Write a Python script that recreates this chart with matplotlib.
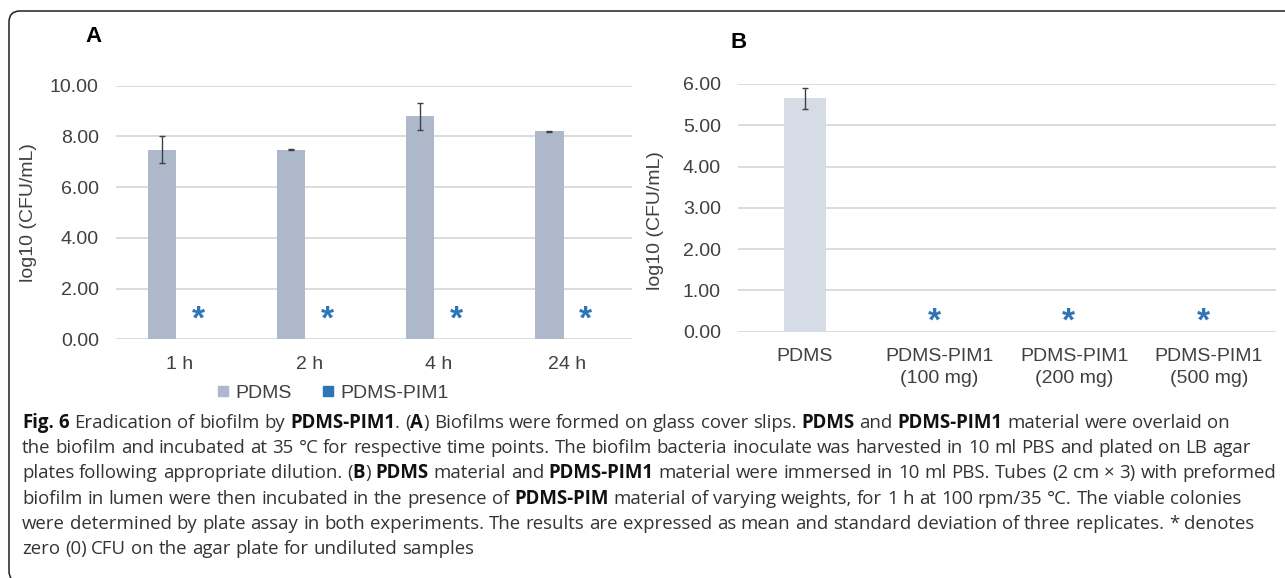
import matplotlib
matplotlib.use('Agg')
import matplotlib.pyplot as plt
from matplotlib.patches import FancyBboxPatch
from matplotlib.lines import Line2D
from matplotlib.transforms import IdentityTransform
import numpy as np

plt.rcParams['font.family'] = ['Liberation Sans', 'DejaVu Sans']

# panel A data
time_labels = ['1 h', '2 h', '4 h', '24 h']
pdms_a = [7.48, 7.47, 8.80, 8.20]
pdms_a_err = [0.54, 0.02, 0.53, 0.02]
pim1_a = [0, 0, 0, 0]

# panel B data
b_labels = ['PDMS', 'PDMS-PIM1\n(100 mg)', 'PDMS-PIM1\n(200 mg)', 'PDMS-PIM1\n(500 mg)']
b_values = [5.65, 0, 0, 0]
b_err = [0.26, 0, 0, 0]

# caption: (text, bold) runs, one list per line
caption = [
    [('Fig. 6', True), (' Eradication of biofilm by ', False), ('PDMS-PIM1', True), ('. (', False),
     ('A', True), (') Biofilms were formed on glass cover slips. ', False), ('PDMS', True),
     (' and ', False), ('PDMS-PIM1', True), (' material were overlaid on', False)],
    [('the biofilm and incubated at 35 °C for respective time points. The biofilm bacteria '
      'inoculate was harvested in 10 ml PBS and plated on LB agar', False)],
    [('plates following appropriate dilution. (', False), ('B', True), (') ', False), ('PDMS', True),
     (' material and ', False), ('PDMS-PIM1', True),
     (' material were immersed in 10 ml PBS. Tubes (2 cm × 3) with preformed', False)],
    [('biofilm in lumen were then incubated in the presence of ', False), ('PDMS-PIM', True),
     (' material of varying weights, for 1 h at 100 rpm/35 °C. The viable colonies', False)],
    [('were determined by plate assay in both experiments. The results are expressed as mean '
      'and standard deviation of three replicates. * denotes', False)],
    [('zero (0) CFU on the agar plate for undiluted samples', False)],
]

W, H = 1285, 578
fig = plt.figure(figsize=(W / 100, H / 100), dpi=100)

grey_txt = '#404040'
grid_c = '#D9D9D9'
star_c = '#2E75B6'
err_kw = dict(ecolor='#404040', elinewidth=1, capthick=1)


def style_axes(ax):
    for s in ax.spines.values():
        s.set_visible(False)
    ax.yaxis.grid(True, color=grid_c, lw=1.3)
    ax.set_axisbelow(True)
    ax.tick_params(length=0, labelsize=14, labelcolor=grey_txt, pad=12)
    ax.yaxis.set_major_formatter(plt.FormatStrFormatter('%.2f'))


def put_star(ax, x, y):
    ax.annotate('*', xy=(x, y), xytext=(0, -0.45 * 24), textcoords='offset points',
                ha='center', va='baseline', fontsize=24, fontweight='bold', color=star_c)


# ---- panel A
axA = fig.add_axes([115.5 / W, 1 - 339.3 / H, (632 - 115.5) / W, (339.3 - 85.7) / H])
style_axes(axA)
x = np.arange(len(time_labels))
axA.bar(x - 0.14, pdms_a, 0.22, color='#ADB9CA', label='PDMS')
axA.errorbar(x - 0.14, pdms_a, yerr=pdms_a_err, fmt='none', capsize=2.2, **err_kw)
axA.bar(x + 0.14, pim1_a, 0.22, color=star_c, label='PDMS-PIM1')
for xi, v in zip(x, pim1_a):
    if v == 0:
        put_star(axA, xi + 0.14, 1.02)
axA.set_xlim(-0.5, 3.5)
axA.set_ylim(0, 10)
axA.set_yticks(range(0, 11, 2))
axA.set_xticks(x)
axA.set_xticklabels(time_labels)
axA.set_ylabel('log10 (CFU/mL)', fontsize=14, color=grey_txt)
axA.yaxis.set_label_coords(-0.152, 0.5)

handles = [Line2D([], [], marker='s', ls='', color='#ADB9CA', markersize=7),
           Line2D([], [], marker='s', ls='', color=star_c, markersize=7)]
leg = fig.legend(handles, ['PDMS', 'PDMS-PIM1'], loc='center', ncol=2, frameon=False,
                 bbox_to_anchor=(333 / W, 1 - 393 / H), fontsize=14, handlelength=0.6,
                 handletextpad=0.3, columnspacing=1.6)
for t in leg.get_texts():
    t.set_color(grey_txt)

# ---- panel B
axB = fig.add_axes([737.5 / W, 1 - 331.7 / H, (1276 - 737.5) / W, (331.7 - 84) / H])
style_axes(axB)
xb = np.arange(len(b_labels))
axB.bar(xb, b_values, 0.31, color='#D6DCE5')
has_err = np.array(b_err) > 0
axB.errorbar(xb[has_err], np.array(b_values)[has_err], yerr=np.array(b_err)[has_err],
             fmt='none', capsize=2.5, **err_kw)
for xi, v in zip(xb, b_values):
    if v == 0:
        put_star(axB, xi - 0.04, 0.40)
axB.set_xlim(-0.5, 3.5)
axB.set_ylim(0, 6)
axB.set_yticks(range(0, 7))
axB.set_xticks(xb)
axB.set_xticklabels(b_labels, linespacing=1.35)
axB.set_ylabel('log10 (CFU/mL)', fontsize=14, color=grey_txt)
axB.yaxis.set_label_coords(-0.1365, 0.45)

fig.text(94 / W, 1 - 37 / H, 'A', fontsize=16, fontweight='bold', ha='center', va='center')
fig.text(739 / W, 1 - 43 / H, 'B', fontsize=16, fontweight='bold', ha='center', va='center')

# ---- frame
frame = FancyBboxPatch((9, -4), 1300, 571, boxstyle='round,pad=0,rounding_size=11',
                       transform=IdentityTransform(), fill=False, ec='#231F20', lw=1.1)
fig.patches.append(frame)

# ---- caption
renderer = fig.canvas.get_renderer()
cap_font = ['Open Sans', 'DejaVu Sans']


def text_w(s, size, bold):
    t = fig.text(0, 0, s, fontsize=size, family=cap_font,
                 fontweight='bold' if bold else 'normal', transform=IdentityTransform())
    w = t.get_window_extent(renderer).width
    t.remove()
    return w


def space_w(size, bold):
    return text_w('n n', size, bold) - text_w('nn', size, bold)


def lay_line(runs, x0, y, size, draw=True):
    xpos = x0
    for s, bold in runs:
        sp = space_w(size, bold)
        for i, word in enumerate(s.split(' ')):
            if i > 0:
                xpos += sp
            if not word:
                continue
            if draw:
                t = fig.text(xpos, y, word, fontsize=size, family=cap_font,
                             fontweight='bold' if bold else 'normal',
                             color='#111111' if bold else '#333333',
                             va='baseline', ha='left', transform=IdentityTransform())
                xpos += t.get_window_extent(renderer).width
            else:
                xpos += text_w(word, size, bold)
    return xpos


x0 = 22
w10 = lay_line(caption[2], x0, 0, 10, draw=False) - x0
cap_size = 10 * (1273 - x0) / w10
for i, runs in enumerate(caption):
    lay_line(runs, x0, H - (428 + i * 25.2), cap_size)

fig.savefig('out.png', dpi=100)
